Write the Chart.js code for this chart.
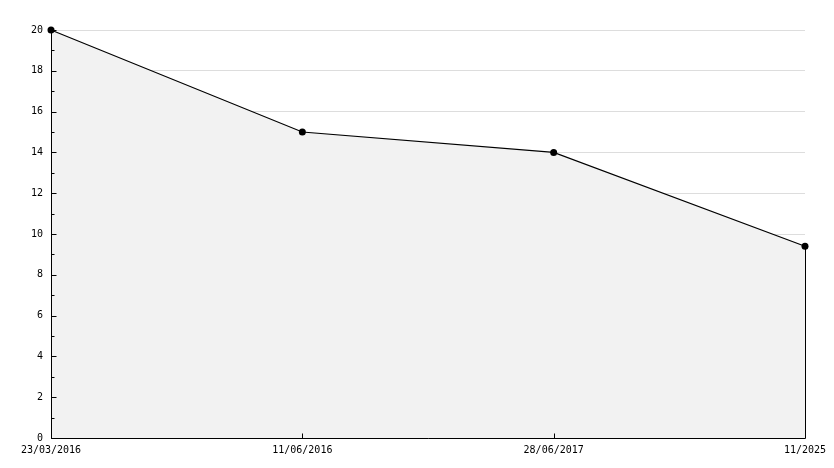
<!DOCTYPE html>
<html>
<head>
<meta charset="utf-8">
<script src="https://cdn.jsdelivr.net/npm/chart.js@4/dist/chart.umd.min.js"></script>
<style>
  body { margin: 0; background: #fff; }
</style>
</head>
<body>
<canvas id="chart" width="834" height="468"></canvas>
<script>
// data
const dates = ['23/03/2016', '11/06/2016', '28/06/2017', '11/2025'];
const values = [20, 15, 14, 9.4];
const yTicks = [0, 2, 4, 6, 8, 10, 12, 14, 16, 18, 20];

// axis lines, small inward tick marks + closing edge of the filled area
const tickMarks = {
  id: 'tickMarks',
  afterDatasetsDraw(chart) {
    const ctx = chart.ctx;
    const x = chart.scales.x;
    const y = chart.scales.y;
    const left = Math.round(chart.chartArea.left) + 0.5;
    const bottom = Math.round(chart.chartArea.bottom) + 0.5;
    const top = chart.chartArea.top;
    ctx.save();
    ctx.strokeStyle = '#000';
    ctx.lineWidth = 1;
    ctx.beginPath();
    // axis lines
    ctx.moveTo(left, top);
    ctx.lineTo(left, bottom);
    ctx.lineTo(chart.chartArea.right, bottom);
    // y ticks, major every 2 and minor in between
    for (let v = 0; v <= 20; v++) {
      const py = Math.round(y.getPixelForValue(v)) + 0.5;
      const len = v % 2 === 0 ? 5 : 3;
      ctx.moveTo(left, py);
      ctx.lineTo(left + len, py);
    }
    // x ticks
    dates.forEach((d, i) => {
      const px = Math.round(x.getPixelForValue(i)) + 0.5;
      ctx.moveTo(px, bottom);
      ctx.lineTo(px, bottom - 5);
    });
    // right edge of the fill
    const last = chart.getDatasetMeta(0).data[values.length - 1];
    const ex = Math.round(last.x) + 0.5;
    ctx.moveTo(ex, last.y);
    ctx.lineTo(ex, bottom);
    ctx.stroke();
    ctx.restore();
  }
};

const ctx = document.getElementById('chart').getContext('2d');
new Chart(ctx, {
  type: 'line',
  data: {
    labels: dates,
    datasets: [{
      data: values,
      borderColor: '#000',
      borderWidth: 1.2,
      backgroundColor: '#f2f2f2',
      fill: 'origin',
      tension: 0,
      clip: false,
      pointRadius: 3.5,
      pointStyle: 'circle',
      pointBackgroundColor: '#000',
      pointBorderColor: '#000',
      pointBorderWidth: 0,
    }],
  },
  options: {
    responsive: false,
    animation: false,
    layout: { padding: { top: 30, right: 29, left: 0, bottom: 0 } },
    plugins: {
      legend: { display: false },
      tooltip: { enabled: false },
    },
    scales: {
      x: {
        type: 'category',
        offset: false,
        grid: { display: false, drawTicks: false },
        border: { display: false },
        ticks: {
          color: '#000',
          font: { family: 'DejaVu Sans Mono', size: 10 },
          padding: 6,
          maxRotation: 0,
          autoSkip: false,
        },
        afterFit: scale => { scale.height = 30; },
      },
      y: {
        min: 0,
        max: 20,
        grid: { color: '#dddddd', drawTicks: false, lineWidth: 1 },
        border: { display: false },
        afterBuildTicks: scale => { scale.ticks = yTicks.map(v => ({ value: v })); },
        ticks: {
          color: '#000',
          font: { family: 'DejaVu Sans Mono', size: 10 },
          padding: 8,
        },
        afterFit: scale => { scale.width = 51; },
      },
    },
  },
  plugins: [tickMarks],
});
</script>
</body>
</html>
